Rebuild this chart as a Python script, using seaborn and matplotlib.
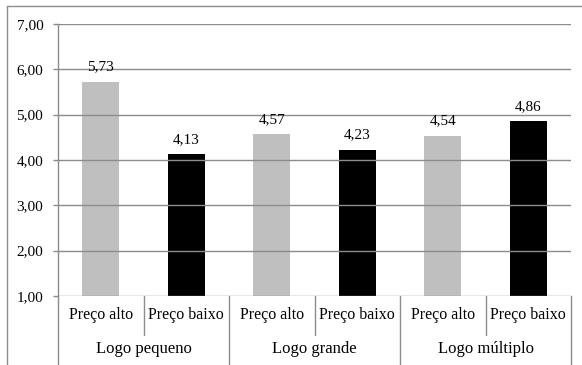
import matplotlib
matplotlib.use("Agg")
import matplotlib.pyplot as plt
import matplotlib.transforms as mtransforms
import seaborn as sns
import pandas as pd

groups = ["Logo pequeno", "Logo grande", "Logo múltiplo"]
prices = ["Preço alto", "Preço baixo"]
values = [5.73, 4.13, 4.57, 4.23, 4.54, 4.86]
value_labels = ["5,73", "4,13", "4,57", "4,23", "4,54", "4,86"]
yticks = [1, 2, 3, 4, 5, 6, 7]
ytick_labels = ["1,00", "2,00", "3,00", "4,00", "5,00", "6,00", "7,00"]
bar_colors = ["#BFBFBF", "#000000"]

sns.set_theme(style="white")
plt.rcParams["font.family"] = ["Liberation Serif", "DejaVu Serif"]

keys = [f"{g}|{p}" for g in groups for p in prices]
df = pd.DataFrame({"key": keys, "value": values,
                   "price": [p for g in groups for p in prices]})

fig = plt.figure(figsize=(5.82, 3.65), dpi=100)
W, H = 582, 365
ax = fig.add_axes([58 / W, 1 - 296 / H, (571 - 58) / W, (296 - 24) / H])

sns.barplot(data=df, x="key", y="value", hue="price", palette=bar_colors,
            order=keys, hue_order=prices, dodge=False, width=0.43,
            legend=False, ax=ax, zorder=1)
for p in ax.patches:
    p.set_edgecolor("none")

ax.set_ylim(1, 7)
ax.set_xlim(-0.5, len(keys) - 0.5)
ax.set_yticks(yticks)
ax.set_yticklabels(ytick_labels, fontsize=11)
ax.set_xticks([])
ax.set_xlabel("")
ax.set_ylabel("")

grid_c = "#8C8C8C"
for y in yticks:
    ax.axhline(y, color=grid_c, lw=1.0, zorder=3)
for s in ["top", "right", "bottom"]:
    ax.spines[s].set_visible(False)
ax.spines["left"].set_color(grid_c)
ax.spines["left"].set_linewidth(1.0)
ax.tick_params(axis="y", which="both", left=True, length=3.6, width=1.0,
               color=grid_c, pad=7, labelcolor="#000000")

for i, (v, lab) in enumerate(zip(values, value_labels)):
    ax.annotate(lab, (i, v), xytext=(0, 8), textcoords="offset points",
                ha="center", va="baseline", fontsize=11, color="#000000")

trans = mtransforms.blended_transform_factory(ax.transData, ax.transAxes)
ah = 296 - 24
for b in [i - 0.5 for i in range(len(keys) + 1)]:
    is_group = (round(b + 0.5) % 2 == 0)
    y1 = -(69 / ah) if is_group else -(39 / ah)
    ax.plot([b, b], [0, y1], transform=trans, color=grid_c, lw=1.0,
            clip_on=False, zorder=3)

for i, k in enumerate(keys):
    ax.text(i, -(19 / ah), k.split("|")[1], transform=trans, ha="center",
            va="center", fontsize=11.5, color="#000000")
for gi, g in enumerate(groups):
    ax.text(gi * 2 + 0.5, -(53 / ah), g, transform=trans, ha="center",
            va="center", fontsize=12, color="#000000")

# outer chart frame
fig.add_artist(plt.Line2D([6.5 / W, 6.5 / W], [0, 1 - 6 / H], transform=fig.transFigure,
                          color=grid_c, lw=1.0))
fig.add_artist(plt.Line2D([6.5 / W, 1.0], [1 - 6 / H, 1 - 6 / H], transform=fig.transFigure,
                          color=grid_c, lw=1.0))

fig.savefig("out.png", dpi=100)
